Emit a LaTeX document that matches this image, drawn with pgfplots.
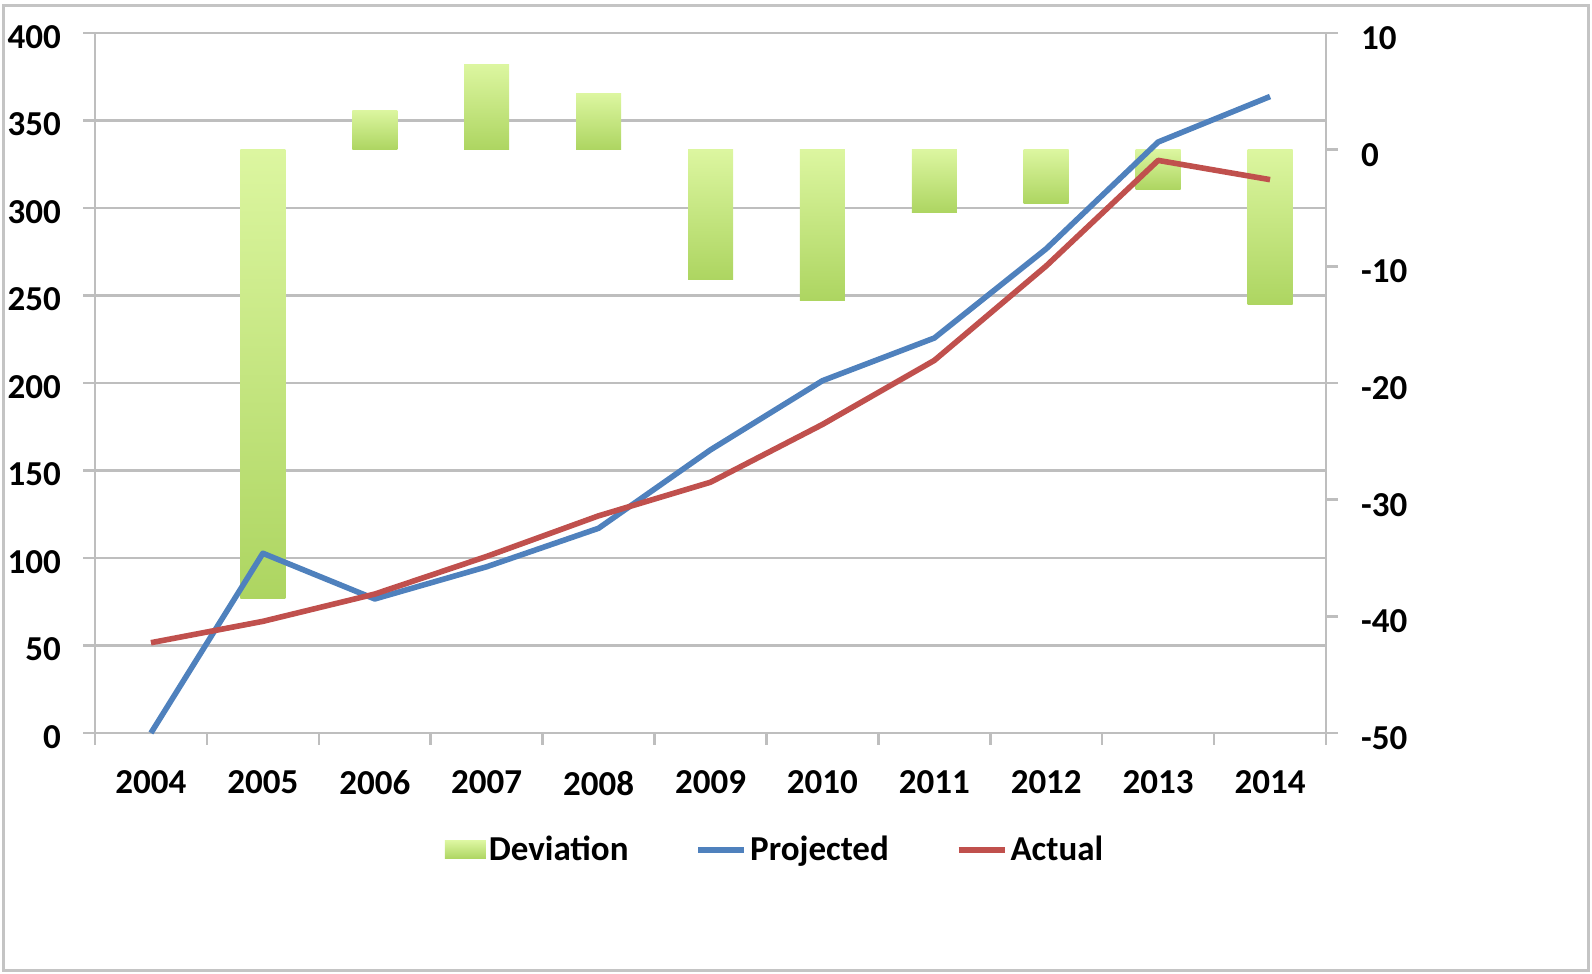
\documentclass[border=0pt]{standalone}
\usepackage{pgfplots}
\pgfplotsset{compat=1.18}
\usepackage{fontspec}
\setmainfont{Carlito}
\definecolor{gridgray}{HTML}{BEBEBE}
\definecolor{projblue}{HTML}{4F81BD}
\definecolor{actred}{HTML}{C0504D}
\definecolor{barlight}{HTML}{DCF6A0}
\definecolor{bardark}{HTML}{ADD561}
\definecolor{framegray}{HTML}{C4C4C4}
\newcommand{\lf}{\bfseries\fontsize{17.5bp}{20bp}\selectfont}

\pgfplotsset{
  base/.style={
    scale only axis, width=615.5bp, height=350bp,
    at={(0,0)}, anchor=south west,
    xmin=-0.5, xmax=10.5,
    axis line style={gridgray, line width=1.3bp},
    tick style={gridgray, line width=1.3bp},
    tick align=outside,
    major tick length=6bp,
    minor tick length=6bp,
    ticklabel style={font=\lf, text=black},
    /pgf/number format/assume math mode=true,
    clip=false,
  },
  devbar/.style={draw=none, top color=barlight, bottom color=bardark},
}

\begin{document}
\begin{tikzpicture}
\useasboundingbox (-47.5bp,-120.5bp) rectangle (748.5bp,366.5bp);
\draw[framegray, line width=1.6bp] (-45.7bp,-118.7bp) rectangle (746.7bp,363.8bp);

% left axis, grid, x axis
\begin{axis}[base,
  ymin=0, ymax=400, ytick={0,50,...,400},
  axis x line*=bottom, axis y line*=left,
  ymajorgrids, grid style={gridgray, line width=1.3bp},
  xtick={0,...,10},
  xticklabels={2004,2005,2006,2007,2008,2009,2010,2011,2012,2013,2014},
  major x tick style={draw=none},
  minor xtick={-0.5,0.5,...,10.5},
  xticklabel style={yshift=-9.5bp},
  yticklabel style={xshift=-7.5bp, yshift=-2bp},
]
\end{axis}

% right axis, deviation bars (one plot per bar so each has its own gradient)
\begin{axis}[base,
  ymin=-50, ymax=10, ytick={-50,-40,...,10},
  axis x line=none, axis y line*=right,
  yticklabel style={xshift=8bp, yshift=-2.5bp},
  ybar, bar width=22.5bp, bar shift=0pt,
]
\addplot[devbar] coordinates {(1,-38.5)};
\addplot[devbar] coordinates {(2,3.4)};
\addplot[devbar] coordinates {(3,7.3)};
\addplot[devbar] coordinates {(4,4.8)};
\addplot[devbar] coordinates {(5,-11.1)};
\addplot[devbar] coordinates {(6,-12.9)};
\addplot[devbar] coordinates {(7,-5.4)};
\addplot[devbar] coordinates {(8,-4.6)};
\addplot[devbar] coordinates {(9,-3.4)};
\addplot[devbar] coordinates {(10,-13.3)};
\end{axis}

% lines
\begin{axis}[base,
  ymin=0, ymax=400, hide axis,
  legend image code/.code={\draw[#1] (0bp,0bp) -- (23bp,0bp);},
  legend style={at={(rel axis cs:0.279,-0.167)}, anchor=west, draw=none, fill=none,
    font=\lf, legend columns=-1, nodes={inner xsep=1.5bp},
    /tikz/every even column/.append style={column sep=32bp}},
]
\addlegendimage{draw=none, legend image code/.code={\shade[draw=none, top color=barlight, bottom color=bardark] (0bp,-4.5bp) rectangle (20.5bp,4.5bp);}}
\addlegendentry{Deviation}
\addplot[projblue, line width=2.8bp, line join=round] coordinates {
  (0,0) (1,102.7) (2,76.6) (3,95) (4,117) (5,161.8) (6,201.3) (7,225.7) (8,276.7) (9,337.7) (10,363.7)};
\addlegendentry{Projected}
\addplot[actred, line width=2.8bp, line join=round] coordinates {
  (0,51.6) (1,63.8) (2,79.4) (3,100.9) (4,124.1) (5,143.3) (6,176.3) (7,212.9) (8,266.9) (9,327.2) (10,316.2)};
\addlegendentry{Actual}
\end{axis}
\end{tikzpicture}
\end{document}
